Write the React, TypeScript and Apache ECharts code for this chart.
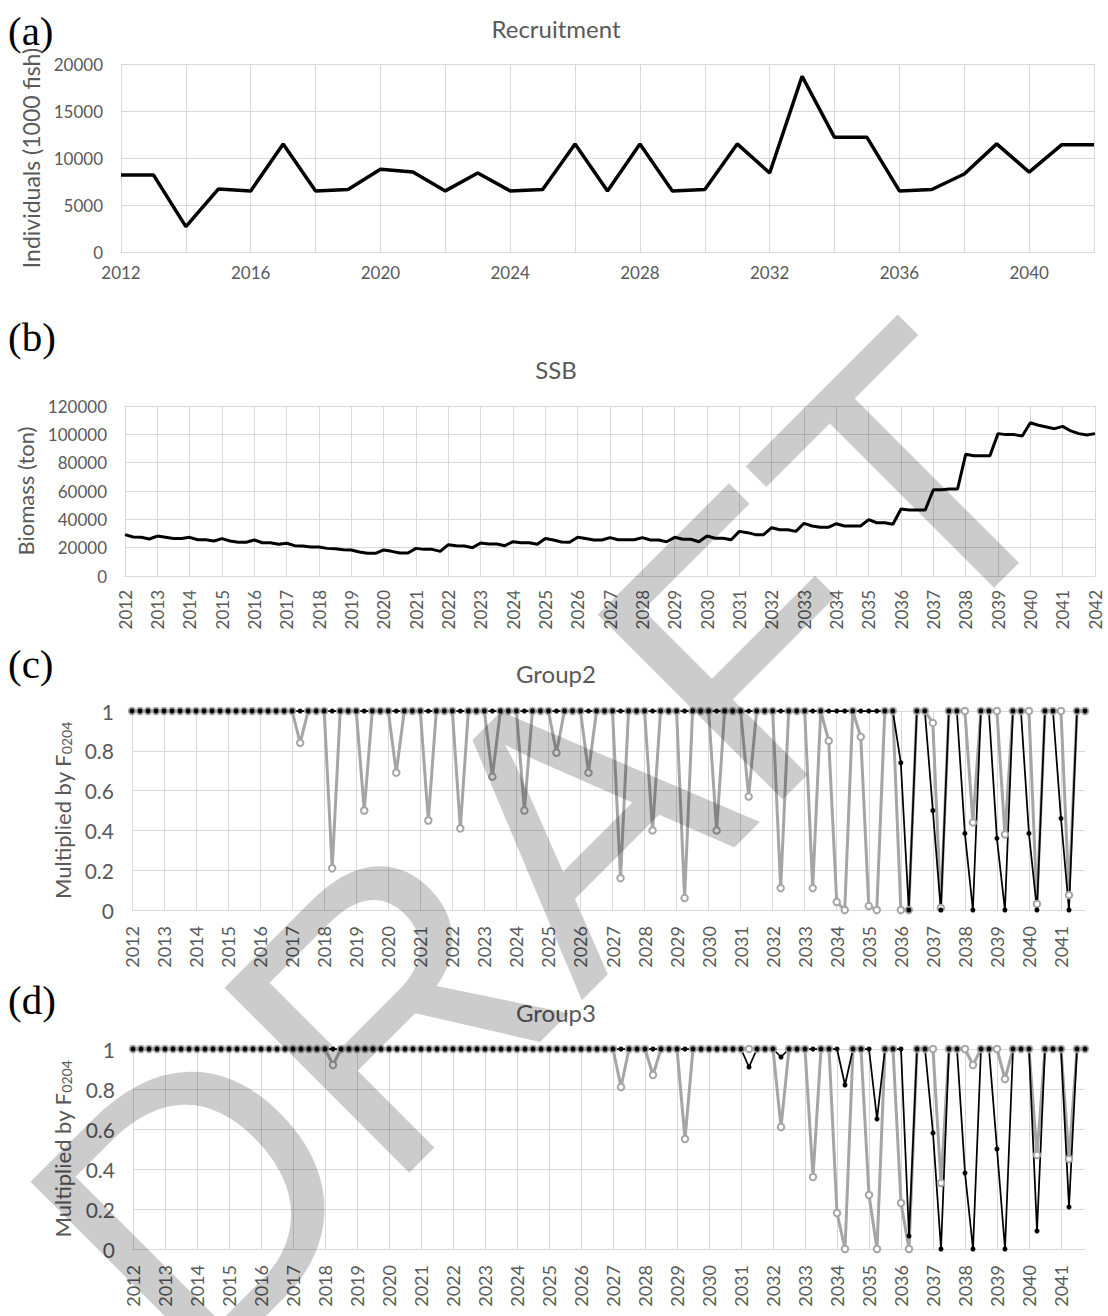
import React, { useEffect, useRef } from "react";
import * as echarts from "echarts";

// ---------- DATA ----------
const recruitYears = [
  "2012","2013","2014","2015","2016","2017","2018","2019","2020","2021","2022",
  "2023","2024","2025","2026","2027","2028","2029","2030","2031","2032","2033",
  "2034","2035","2036","2037","2038","2039","2040","2041","2042",
];
const recruitment = [
  8200, 8200, 2700, 6700, 6500, 11500, 6500, 6650, 8800, 8500, 6500,
  8400, 6500, 6650, 11500, 6500, 11500, 6500, 6650, 11500, 8400, 18700,
  12200, 12200, 6500, 6650, 8300, 11500, 8500, 11400, 11400,
];

// quarterly SSB, 2012 Q1 ... 2042 Q1 (tons)
const ssb = [
  29200, 27500, 27300, 26100, // 2012
  28200, 27300, 26400, 26400, // 2013
  27300, 25600, 25600, 24700, // 2014
  26400, 24700, 23800, 23800, // 2015
  25400, 23500, 23500, 22400, // 2016
  23100, 21400, 21200, 20500, // 2017
  20500, 19500, 19300, 18600, // 2018
  18400, 16900, 16000, 16000, // 2019
  18400, 17400, 16200, 16200, // 2020
  19500, 18800, 18800, 17400, // 2021
  22100, 21400, 21200, 20000, // 2022
  23300, 22600, 22600, 21400, // 2023
  24200, 23500, 23500, 22400, // 2024
  26500, 25400, 24000, 23800, // 2025
  27300, 26400, 25400, 25400, // 2026
  27100, 25600, 25600, 25600, // 2027
  27100, 25400, 25400, 24200, // 2028
  27300, 25900, 25900, 24200, // 2029
  28200, 26600, 26600, 25600, // 2030
  31500, 30600, 29200, 29200, // 2031
  34100, 32700, 32700, 31500, // 2032
  37200, 35300, 34400, 34400, // 2033
  36900, 35300, 35300, 35300, // 2034
  39800, 37600, 37600, 36500, // 2035
  47300, 46600, 46600, 46600, // 2036
  60900, 60900, 61400, 61400, // 2037
  85900, 84900, 84900, 84900, // 2038
  100500, 99800, 99800, 98800, // 2039
  108200, 106400, 105200, 104000, // 2040
  105600, 102400, 100500, 99500, // 2041
  100500, // 2042
];

// Group2, quarterly 2012 Q1 ... 2041 Q4
const group2Grey = [
  1, 1, 1, 1, // 2012
  1, 1, 1, 1, // 2013
  1, 1, 1, 1, // 2014
  1, 1, 1, 1, // 2015
  1, 1, 1, 1, // 2016
  1, 0.84, 1, 1, // 2017
  1, 0.21, 1, 1, // 2018
  1, 0.5, 1, 1, // 2019
  1, 0.69, 1, 1, // 2020
  1, 0.45, 1, 1, // 2021
  1, 0.41, 1, 1, // 2022
  1, 0.67, 1, 1, // 2023
  1, 0.5, 1, 1, // 2024
  1, 0.79, 1, 1, // 2025
  1, 0.69, 1, 1, // 2026
  1, 0.16, 1, 1, // 2027
  1, 0.4, 1, 1, // 2028
  1, 0.06, 1, 1, // 2029
  1, 0.4, 1, 1, // 2030
  1, 0.57, 1, 1, // 2031
  1, 0.11, 1, 1, // 2032
  1, 0.11, 1, 0.85, // 2033
  0.04, 0, 1, 0.87, // 2034
  0.02, 0, 1, 1, // 2035
  0, 0, 1, 1, // 2036
  0.94, 0.01, 1, 1, // 2037
  1, 0.44, 1, 1, // 2038
  1, 0.38, 1, 1, // 2039
  1, 0.03, 1, 1, // 2040
  1, 0.075, 1, 1, // 2041
];
const group2Black = [
  1, 1, 1, 1, // 2012
  1, 1, 1, 1, // 2013
  1, 1, 1, 1, // 2014
  1, 1, 1, 1, // 2015
  1, 1, 1, 1, // 2016
  1, 1, 1, 1, // 2017
  1, 1, 1, 1, // 2018
  1, 1, 1, 1, // 2019
  1, 1, 1, 1, // 2020
  1, 1, 1, 1, // 2021
  1, 1, 1, 1, // 2022
  1, 1, 1, 1, // 2023
  1, 1, 1, 1, // 2024
  1, 1, 1, 1, // 2025
  1, 1, 1, 1, // 2026
  1, 1, 1, 1, // 2027
  1, 1, 1, 1, // 2028
  1, 1, 1, 1, // 2029
  1, 1, 1, 1, // 2030
  1, 1, 1, 1, // 2031
  1, 1, 1, 1, // 2032
  1, 1, 1, 1, // 2033
  1, 1, 1, 1, // 2034
  1, 1, 1, 1, // 2035
  0.74, 0, 1, 1, // 2036
  0.5, 0, 1, 1, // 2037
  0.385, 0, 1, 1, // 2038
  0.36, 0, 1, 1, // 2039
  0.385, 0, 1, 1, // 2040
  0.46, 0, 1, 1, // 2041
];

// Group3, quarterly 2012 Q1 ... 2041 Q4
const group3Grey = [
  1, 1, 1, 1, // 2012
  1, 1, 1, 1, // 2013
  1, 1, 1, 1, // 2014
  1, 1, 1, 1, // 2015
  1, 1, 1, 1, // 2016
  1, 1, 1, 1, // 2017
  1, 0.92, 1, 1, // 2018
  1, 1, 1, 1, // 2019
  1, 1, 1, 1, // 2020
  1, 1, 1, 1, // 2021
  1, 1, 1, 1, // 2022
  1, 1, 1, 1, // 2023
  1, 1, 1, 1, // 2024
  1, 1, 1, 1, // 2025
  1, 1, 1, 1, // 2026
  1, 0.81, 1, 1, // 2027
  1, 0.87, 1, 1, // 2028
  1, 0.55, 1, 1, // 2029
  1, 1, 1, 1, // 2030
  1, 1, 1, 1, // 2031
  1, 0.61, 1, 1, // 2032
  1, 0.36, 1, 1, // 2033
  0.18, 0, 1, 1, // 2034
  0.27, 0, 1, 1, // 2035
  0.23, 0, 1, 1, // 2036
  1, 0.33, 1, 1, // 2037
  1, 0.92, 1, 1, // 2038
  1, 0.85, 1, 1, // 2039
  1, 0.47, 1, 1, // 2040
  1, 0.45, 1, 1, // 2041
];
const group3Black = [
  1, 1, 1, 1, // 2012
  1, 1, 1, 1, // 2013
  1, 1, 1, 1, // 2014
  1, 1, 1, 1, // 2015
  1, 1, 1, 1, // 2016
  1, 1, 1, 1, // 2017
  1, 1, 1, 1, // 2018
  1, 1, 1, 1, // 2019
  1, 1, 1, 1, // 2020
  1, 1, 1, 1, // 2021
  1, 1, 1, 1, // 2022
  1, 1, 1, 1, // 2023
  1, 1, 1, 1, // 2024
  1, 1, 1, 1, // 2025
  1, 1, 1, 1, // 2026
  1, 1, 1, 1, // 2027
  1, 1, 1, 1, // 2028
  1, 1, 1, 1, // 2029
  1, 1, 1, 1, // 2030
  1, 0.91, 1, 1, // 2031
  1, 0.96, 1, 1, // 2032
  1, 1, 1, 1, // 2033
  1, 0.82, 1, 1, // 2034
  1, 0.65, 1, 1, // 2035
  1, 0.065, 1, 1, // 2036
  0.58, 0, 1, 1, // 2037
  0.38, 0, 1, 1, // 2038
  0.5, 0, 1, 1, // 2039
  1, 0.09, 1, 1, // 2040
  1, 0.21, 1, 1, // 2041
];

const panelTitles = ["Recruitment", "SSB", "Group2", "Group3"];
const panelLetters = ["(a)", "(b)", "(c)", "(d)"];

// ---------- STYLE ----------
const FONT = 'Lato, "Open Sans", sans-serif';
const TXT = "#595959";
const GRIDC = "#d9d9d9";
const GREY = "#a5a5a5";

function quarterCats(firstYear: number, count: number): string[] {
  const out: string[] = [];
  for (let i = 0; i < count; i++) out.push(`${firstYear + Math.floor(i / 4)}-Q${(i % 4) + 1}`);
  return out;
}

const catAxis = (gridIndex: number, data: string[], o: any) => ({
  type: "category",
  gridIndex,
  data,
  boundaryGap: false,
  axisLine: { show: true, lineStyle: { color: GRIDC, width: 1 } },
  axisTick: { show: false },
  splitLine: { show: true, interval: o.split, lineStyle: { color: GRIDC, width: 1 } },
  axisLabel: {
    interval: o.label,
    rotate: o.rotate || 0,
    color: TXT,
    fontSize: o.fs,
    fontFamily: FONT,
    margin: o.margin,
    formatter: (v: string) => v.split("-")[0],
  },
});

const valAxis = (gridIndex: number, max: number, interval: number, fs: number, name: string, gap: number, nameFs: number, rich?: any) => ({
  type: "value",
  gridIndex,
  min: 0,
  max,
  interval,
  axisLine: { show: false },
  axisTick: { show: false },
  splitLine: { show: true, lineStyle: { color: GRIDC, width: 1 } },
  axisLabel: { color: TXT, fontSize: fs, fontFamily: FONT, margin: 18, formatter: (v: number) => String(v) },
  name,
  nameLocation: "middle",
  nameRotate: 90,
  nameGap: gap,
  nameTextStyle: { color: TXT, fontSize: nameFs, fontFamily: FONT, rich },
});

const fRich = {
  a: { color: TXT, fontSize: 22, fontFamily: FONT, verticalAlign: "bottom" },
  b: { color: TXT, fontSize: 14, fontFamily: FONT, verticalAlign: "bottom" },
};

export default function App() {
  const ref = useRef<HTMLDivElement>(null);

  useEffect(() => {
    if (!ref.current) return;
    const chart = echarts.init(ref.current, undefined, { renderer: "svg" });
    const qSSB = quarterCats(2012, ssb.length);
    const qGrp = quarterCats(2012, group2Grey.length);

    const greySeries = (idx: number, data: number[]) => ({
      type: "line",
      xAxisIndex: idx,
      yAxisIndex: idx,
      data,
      symbol: "circle",
      symbolSize: 6.5,
      showAllSymbol: true,
      clip: false,
      itemStyle: { color: "#ffffff", borderColor: GREY, borderWidth: 2 },
      lineStyle: { color: GREY, width: 3 },
      emphasis: { disabled: true },
    });
    const blackSeries = (idx: number, data: number[]) => ({
      type: "line",
      xAxisIndex: idx,
      yAxisIndex: idx,
      data,
      symbol: "circle",
      symbolSize: 5,
      showAllSymbol: true,
      clip: false,
      itemStyle: { color: "#000000" },
      lineStyle: { color: "#000000", width: 1.75 },
      emphasis: { disabled: true },
    });

    const titleY = [28, 369, 673, 1012];
    const letterY = [31, 337, 664, 1000];

    const graphic: any[] = [];
    panelTitles.forEach((t, i) =>
      graphic.push({
        type: "text",
        x: 556,
        y: titleY[i],
        style: { text: t, fontSize: 24, fontFamily: FONT, fill: TXT, align: "center", verticalAlign: "middle" },
      })
    );
    panelLetters.forEach((t, i) =>
      graphic.push({
        type: "text",
        x: 8,
        y: letterY[i],
        style: { text: t, fontSize: 41, fontFamily: '"Liberation Serif", serif', fill: "#000", align: "left", verticalAlign: "middle" },
      })
    );
    graphic.push({
      type: "text",
      x: 548,
      y: 848,
      rotation: Math.PI / 4,
      z: 100,
      silent: true,
      style: {
        text: "DRAFT",
        fontSize: 380,
        fontFamily: '"Liberation Sans", sans-serif',
        fill: "rgba(0,0,0,0.2)",
        align: "center",
        verticalAlign: "middle",
      },
    });

    chart.setOption({
      animation: false,
      backgroundColor: "#ffffff",
      grid: [
        { left: 121, right: 14, top: 64, height: 188 },
        { left: 125, right: 13, top: 406, height: 170 },
        { left: 132, right: 23, top: 711, height: 199 },
        { left: 133, right: 23, top: 1049, height: 200 },
      ],
      xAxis: [
        catAxis(0, recruitYears.map((y) => y + "-Q1"), { split: 1, label: 3, fs: 17, margin: 12 }),
        catAxis(1, qSSB, { split: 3, label: 3, fs: 17, margin: 14, rotate: 90 }),
        catAxis(2, qGrp, { split: 3, label: 3, fs: 18, margin: 16, rotate: 90 }),
        catAxis(3, qGrp, { split: 3, label: 3, fs: 18, margin: 16, rotate: 90 }),
      ],
      yAxis: [
        valAxis(0, 20000, 5000, 17, "Individuals (1000 fish)", 76, 23),
        valAxis(1, 120000, 20000, 17, "Biomass (ton)", 86, 22),
        valAxis(2, 1, 0.2, 21, "{a|Multiplied by F}{b|0204}", 59, 22, fRich),
        valAxis(3, 1, 0.2, 21, "{a|Multiplied by F}{b|0204}", 60, 22, fRich),
      ],
      series: [
        {
          type: "line",
          xAxisIndex: 0,
          yAxisIndex: 0,
          data: recruitment,
          symbol: "none",
          lineStyle: { color: "#000", width: 3.5 },
        },
        {
          type: "line",
          xAxisIndex: 1,
          yAxisIndex: 1,
          data: ssb,
          symbol: "none",
          lineStyle: { color: "#000", width: 3 },
        },
        greySeries(2, group2Grey),
        blackSeries(2, group2Black),
        greySeries(3, group3Grey),
        blackSeries(3, group3Black),
      ],
      graphic,
    });
    return () => chart.dispose();
  }, []);

  return <div ref={ref} style={{ position: "absolute", left: 0, top: 0, width: 1108, height: 1316 }} />;
}
